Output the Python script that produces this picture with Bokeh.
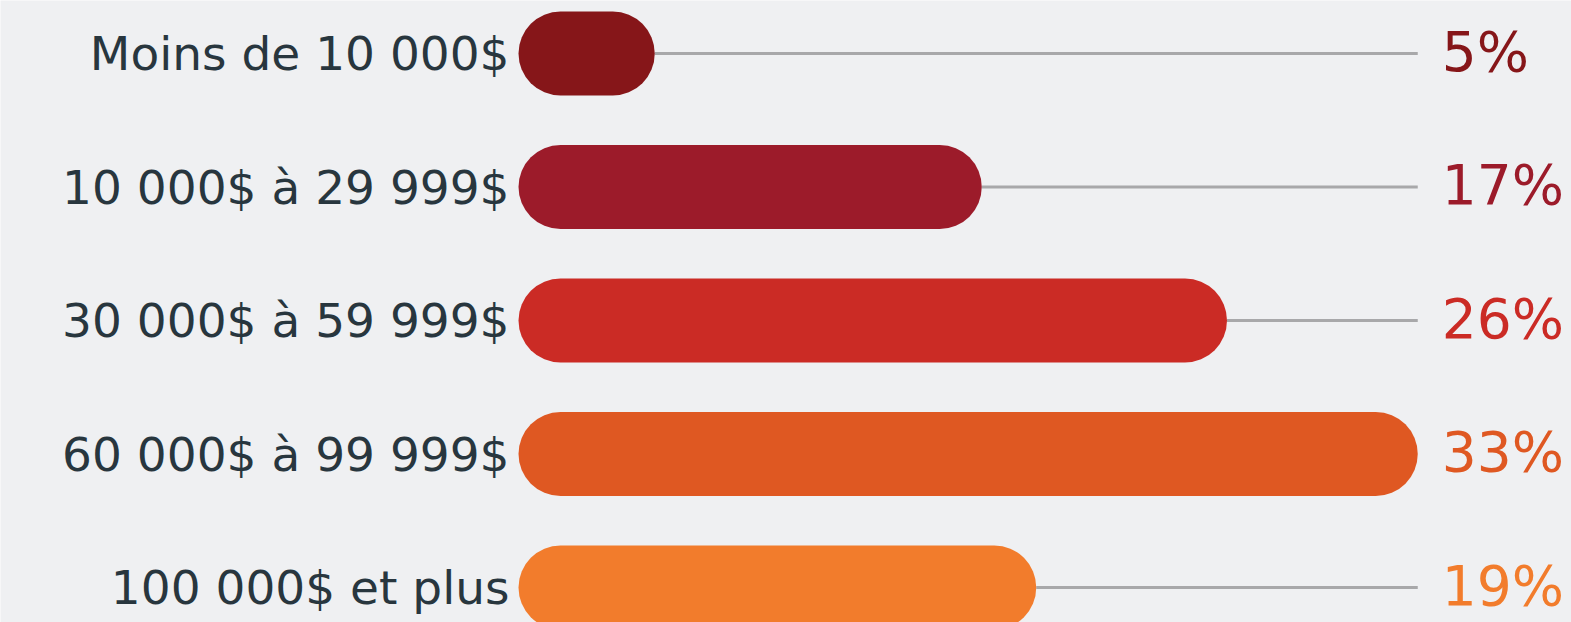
from bokeh.plotting import figure
from bokeh.models import Range1d, ColumnDataSource
from bokeh.core.properties import value
from bokeh.embed import file_html
from bokeh.resources import INLINE

categories = ["Moins de 10 000$", "10 000$ à 29 999$", "30 000$ à 59 999$",
              "60 000$ à 99 999$", "100 000$ et plus"]
percents = [5, 17, 26, 33, 19]
labels = ["5%", "17%", "26%", "33%", "19%"]
colors = ["#861619", "#9C1B2A", "#CB2B25", "#DF5822", "#F27C2C"]

W, H = 1571, 622
px_per_unit = 27.25
x0_px = 518
row0_px = 53
row_step = 133.5
bar_h = 84

xmax = max(percents)
rows = list(range(len(categories)))
r_units = (bar_h / 2) / px_per_unit

src = ColumnDataSource(dict(
    y=rows, v=percents, cat=categories, lab=labels, col=colors,
    xs=[r_units] * len(rows),
    xe=[v - r_units for v in percents],
    lmax=[xmax] * len(rows),
    zero=[0] * len(rows),
))

p = figure(width=W, height=H, output_backend="svg", toolbar_location=None,
           x_range=Range1d(-x0_px / px_per_unit, (W - x0_px) / px_per_unit),
           y_range=Range1d((H - row0_px) / row_step, -row0_px / row_step),
           min_border=0, background_fill_color="#EFF0F2",
           border_fill_color="#EFF0F2", outline_line_color=None)
p.axis.visible = False
p.grid.visible = False

# grey guide lines
p.segment(x0="v", y0="y", x1="lmax", y1="y", source=src,
          line_color="#A8A8AA", line_width=3)
# rounded bars
p.segment(x0="xs", y0="y", x1="xe", y1="y", source=src,
          line_color="col", line_width=bar_h, line_cap="round")

# category labels
p.text(x="zero", y="y", text="cat", source=src, x_offset=-9,
       text_align="right", text_baseline="middle",
       text_font=value("DejaVu Sans"), text_font_size="47px", text_color="#28363E")
# percent labels
p.text(x="lmax", y="y", text="lab", source=src, x_offset=24, y_offset=-2,
       text_align="left", text_baseline="middle",
       text_font=value("DejaVu Sans"), text_font_size="55px", text_color="col")

open("out.html", "w").write(file_html(p, INLINE))
